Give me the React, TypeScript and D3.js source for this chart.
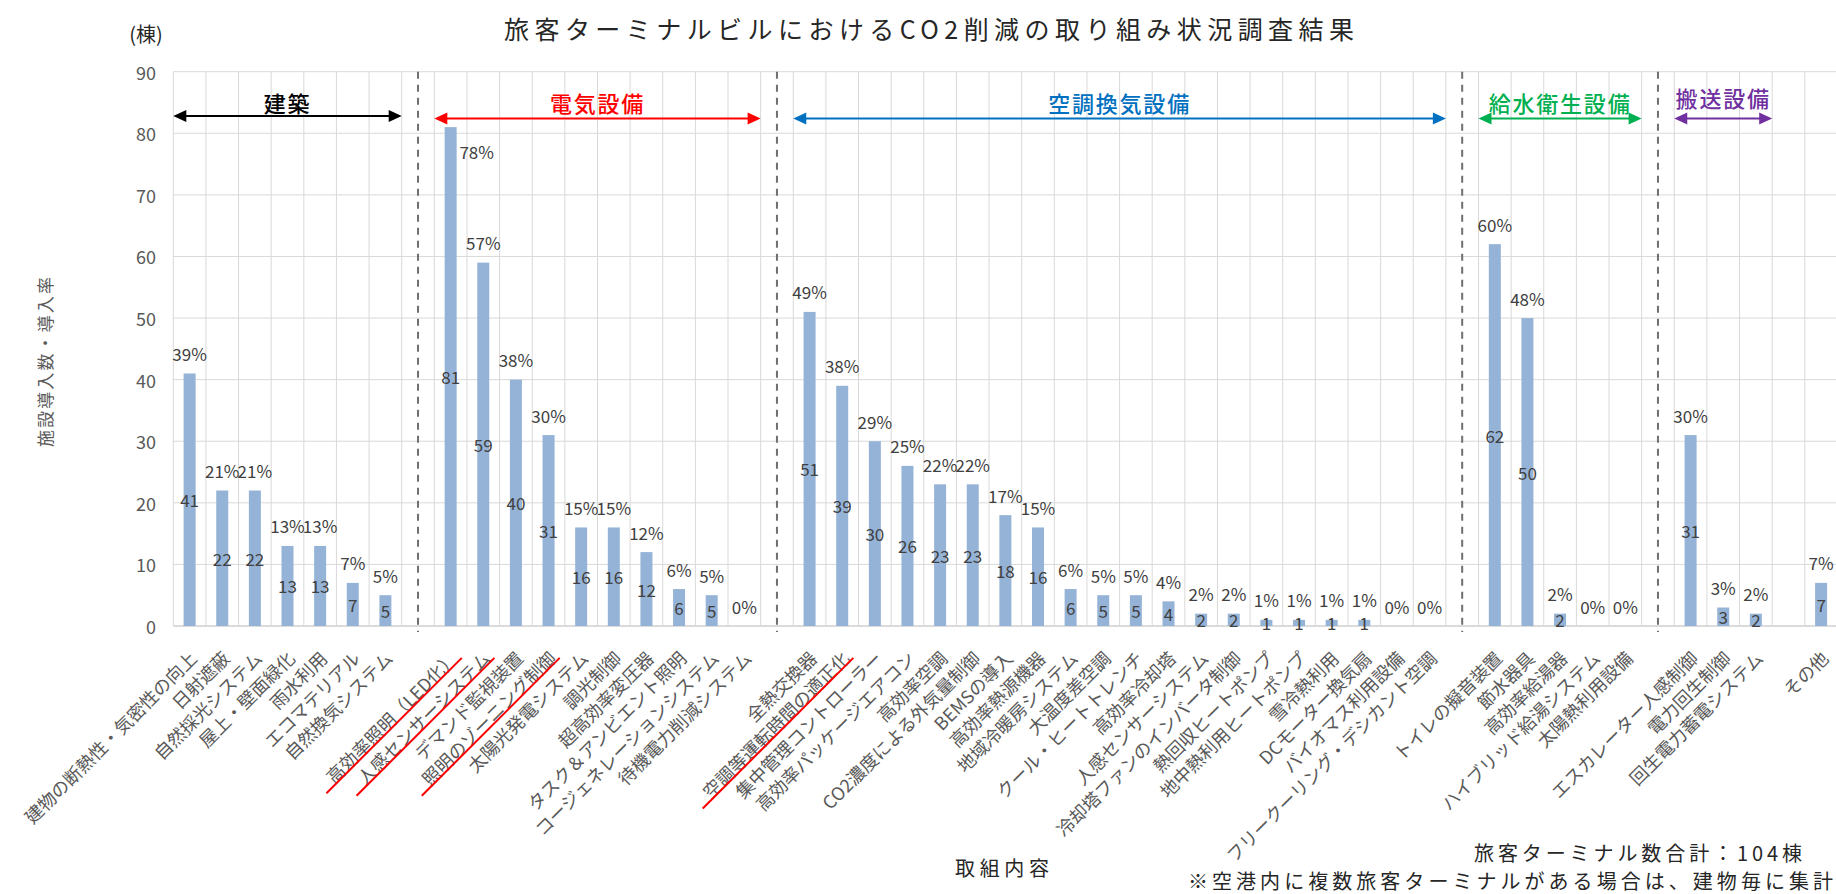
import React from "react";
import * as d3 from "d3";

// ---- data -------------------------------------------------------------
const groupNames = ["建築", "電気設備", "空調換気設備", "給水衛生設備", "搬送設備"];
const groupColors = ["#000000", "#ff0000", "#0070c0", "#00b050", "#7030a0"];

const archItems = ["建物の断熱性・気密性の向上", "日射遮蔽", "自然採光システム", "屋上・壁面緑化", "雨水利用", "エコマテリアル", "自然換気システム"];
const archCounts = [41, 22, 22, 13, 13, 7, 5];
const archRates = [39, 21, 21, 13, 13, 7, 5];

const elecItems = ["高効率照明（LED化）", "人感センサーシステム", "デマンド監視装置", "照明のゾーニング制御", "太陽光発電システム", "調光制御", "超高効率変圧器", "タスク＆アンビエント照明", "コージェネレーションシステム", "待機電力削減システム"];
const elecCounts = [81, 59, 40, 31, 16, 16, 12, 6, 5, 0];
const elecRates = [78, 57, 38, 30, 15, 15, 12, 6, 5, 0];

const hvacItems = ["全熱交換器", "空調等運転時間の適正化", "集中管理コントローラー", "高効率パッケージエアコン", "高効率空調", "CO2濃度による外気量制御", "BEMSの導入", "高効率熱源機器", "地域冷暖房システム", "大温度差空調", "クール・ヒートトレンチ", "高効率冷却塔", "人感センサーシステム", "冷却塔ファンのインバータ制御", "熱回収ヒートポンプ", "地中熱利用ヒートポンプ", "雪冷熱利用", "DCモーター換気扇", "バイオマス利用設備", "フリークーリング・デシカント空調"];
const hvacCounts = [51, 39, 30, 26, 23, 23, 18, 16, 6, 5, 5, 4, 2, 2, 1, 1, 1, 1, 0, 0];
const hvacRates = [49, 38, 29, 25, 22, 22, 17, 15, 6, 5, 5, 4, 2, 2, 1, 1, 1, 1, 0, 0];

const plumbItems = ["トイレの擬音装置", "節水器具", "高効率給湯器", "ハイブリッド給湯システム", "太陽熱利用設備"];
const plumbCounts = [62, 50, 2, 0, 0];
const plumbRates = [60, 48, 2, 0, 0];

const transItems = ["エスカレーター人感制御", "電力回生制御", "回生電力蓄電システム"];
const transCounts = [31, 3, 2];
const transRates = [30, 3, 2];

const otherItems = ["その他"];
const otherCounts = [7];
const otherRates = [7];

const yTicks = [0, 10, 20, 30, 40, 50, 60, 70, 80, 90];

// items marked with a red underline (group / item)
const underlined = ["電気設備/高効率照明（LED化）", "電気設備/人感センサーシステム", "電気設備/照明のゾーニング制御", "空調換気設備/空調等運転時間の適正化"];

const titleText = "旅客ターミナルビルにおけるCO2削減の取り組み状況調査結果";
const unitText = "(棟)";
const yTitle = "施設導入数・導入率";
const xTitle = "取組内容";
const note1 = "旅客ターミナル数合計：104棟";
const note2 = "※空港内に複数旅客ターミナルがある場合は、建物毎に集計";

// ---- slots along the category axis -------------------------------------
type Slot = { key: string; name: string; count: number | null; rate: number | null; group: number; kind: "bar" | "divider" | "blank" };

const groupSeries = [
  { items: archItems, counts: archCounts, rates: archRates },
  { items: elecItems, counts: elecCounts, rates: elecRates },
  { items: hvacItems, counts: hvacCounts, rates: hvacRates },
  { items: plumbItems, counts: plumbCounts, rates: plumbRates },
  { items: transItems, counts: transCounts, rates: transRates },
];

const slots: Slot[] = [];
groupSeries.forEach((g, gi) => {
  g.items.forEach((name, i) =>
    slots.push({ key: `${groupNames[gi]}/${name}`, name, count: g.counts[i], rate: g.rates[i], group: gi, kind: "bar" })
  );
  slots.push({ key: `gap-${gi}`, name: "", count: null, rate: null, group: gi, kind: gi < groupSeries.length - 1 ? "divider" : "blank" });
});
otherItems.forEach((name, i) =>
  slots.push({ key: `other/${name}`, name, count: otherCounts[i], rate: otherRates[i], group: -1, kind: "bar" })
);

// ---- layout -------------------------------------------------------------
const W = 1836;
const H = 894;
const plotLeft = 173.3;
const band = 32.63;
const plotRight = plotLeft + band * slots.length;
const plotTop = 71.7;
const plotBottom = 626;
const FONT = "'Noto Sans CJK JP', 'Noto Sans', sans-serif";

const x = d3.scaleBand<string>().domain(slots.map((s) => s.key)).range([plotLeft, plotRight]).padding(0);
const y = d3.scaleLinear().domain([0, 90]).range([plotBottom, plotTop]);

const barW = 12;
const labelColor = "#404040";
const axisText = "#595959";

function textWidth(s: string, fs: number) {
  let w = 0;
  for (const ch of s) w += ch.charCodeAt(0) < 0x2000 ? 0.6 * fs : fs;
  return w;
}

function Arrow({ x1, x2, yy, color }: { x1: number; x2: number; yy: number; color: string }) {
  const hl = 13;
  const hw = 6;
  return (
    <g>
      <line x1={x1 + hl - 1} x2={x2 - hl + 1} y1={yy} y2={yy} stroke={color} strokeWidth={2} />
      <path d={`M${x1},${yy} L${x1 + hl},${yy - hw} L${x1 + hl},${yy + hw} Z`} fill={color} />
      <path d={`M${x2},${yy} L${x2 - hl},${yy - hw} L${x2 - hl},${yy + hw} Z`} fill={color} />
    </g>
  );
}

export default function App() {
  const bw = x.bandwidth();
  const boundaries = d3.range(slots.length + 1).map((i) => plotLeft + i * bw);
  const xLabelFs = 18;

  return (
    <div style={{ position: "absolute", left: 0, top: 0 }}>
      <svg width={W} height={H} style={{ display: "block", background: "#fff", fontFamily: FONT }}>
        {/* title and unit */}
        <text x={929} y={27.5} textAnchor="middle" dominantBaseline="central" fontSize={25} fill="#262626" textLength={850} lengthAdjust="spacing">
          {titleText}
        </text>
        <text x={146} y={33} textAnchor="middle" dominantBaseline="central" fontSize={20} fill="#262626">
          {unitText}
        </text>

        {/* gridlines */}
        {yTicks.map((t) => (
          <line key={`h${t}`} x1={plotLeft} x2={plotRight} y1={y(t)} y2={y(t)} stroke={t === 0 ? "#cfcfcf" : "#d9d9d9"} strokeWidth={t === 0 ? 1.5 : 1} />
        ))}
        {boundaries.map((bx, i) => (
          <line key={`v${i}`} x1={bx} x2={bx} y1={plotTop} y2={plotBottom} stroke="#d9d9d9" strokeWidth={1} />
        ))}

        {/* y tick labels */}
        {yTicks.map((t) => (
          <text key={`yt${t}`} x={156} y={y(t)} textAnchor="end" dominantBaseline="central" fontSize={18} fill={axisText}>
            {t}
          </text>
        ))}

        {/* group dividers */}
        {slots
          .filter((s) => s.kind === "divider")
          .map((s) => {
            const cx = (x(s.key) as number) + bw / 2;
            return <line key={s.key} x1={cx} x2={cx} y1={plotTop} y2={plotBottom + 6} stroke="#6f6f6f" strokeWidth={2} strokeDasharray="7 6" />;
          })}

        {/* group arrows and names */}
        {groupNames.map((g, gi) => {
          const members = slots.filter((s) => s.group === gi && s.kind === "bar");
          const x1 = x(members[0].key) as number;
          const x2 = (x(members[members.length - 1].key) as number) + bw;
          const mid = (x1 + x2) / 2;
          const textY = gi === 4 ? 97 : 102;
          return (
            <g key={g}>
              <Arrow x1={x1} x2={x2} yy={gi === 0 ? 116 : 118.5} color={groupColors[gi]} />
              <text x={mid} y={textY} textAnchor="middle" dominantBaseline="central" fontSize={22} letterSpacing={1.8} fill={groupColors[gi]} fontWeight={500}>
                {g}
              </text>
            </g>
          );
        })}

        {/* bars */}
        {slots
          .filter((s) => s.kind === "bar")
          .map((s) => {
            const cx = (x(s.key) as number) + bw / 2;
            const v = s.count as number;
            return <rect key={`b-${s.key}`} x={cx - barW / 2} y={y(v)} width={barW} height={y(0) - y(v)} fill="#95b3d7" />;
          })}

        {/* count labels (inside) and rate labels (above) */}
        {slots
          .filter((s) => s.kind === "bar")
          .map((s) => {
            const cx = (x(s.key) as number) + bw / 2;
            const v = s.count as number;
            const top = y(v);
            let px = cx;
            let py = top - 20;
            if (py < 140) {
              px = cx + 26;
              py = top + 24;
            }
            return (
              <g key={`l-${s.key}`} fontSize={17} fill={labelColor}>
                {v > 0 && (
                  <text x={cx} y={(top + y(0)) / 2} textAnchor="middle" dominantBaseline="central">
                    {v}
                  </text>
                )}
                <text x={px} y={py} textAnchor="middle" dominantBaseline="central">
                  {`${s.rate}%`}
                </text>
              </g>
            );
          })}

        {/* category labels */}
        {slots
          .filter((s) => s.kind === "bar")
          .map((s) => {
            const cx = (x(s.key) as number) + bw / 2;
            const w = textWidth(s.name, xLabelFs);
            return (
              <g key={`c-${s.key}`} transform={`translate(${cx + 3},654) rotate(-45)`}>
                <text textAnchor="end" dominantBaseline="central" fontSize={xLabelFs} fill={axisText}>
                  {s.name}
                </text>
                {underlined.includes(s.key) && <line x1={-(w + 12)} x2={3} y1={8.5} y2={8.5} stroke="#ff0000" strokeWidth={2} />}
              </g>
            );
          })}

        {/* axis titles */}
        <text transform="translate(44.5,362) rotate(-90)" textAnchor="middle" dominantBaseline="central" fontSize={17} fill={axisText} textLength={170} lengthAdjust="spacing">
          {yTitle}
        </text>
        <text x={1002} y={867} textAnchor="middle" dominantBaseline="central" fontSize={20} fill="#262626" textLength={94} lengthAdjust="spacing">
          {xTitle}
        </text>

        {/* notes */}
        <text x={1474} y={852} dominantBaseline="central" fontSize={20} fill="#262626" textLength={328} lengthAdjust="spacing">
          {note1}
        </text>
        <text x={1188} y={880} dominantBaseline="central" fontSize={20} fill="#262626" textLength={645} lengthAdjust="spacing">
          {note2}
        </text>
      </svg>
    </div>
  );
}
